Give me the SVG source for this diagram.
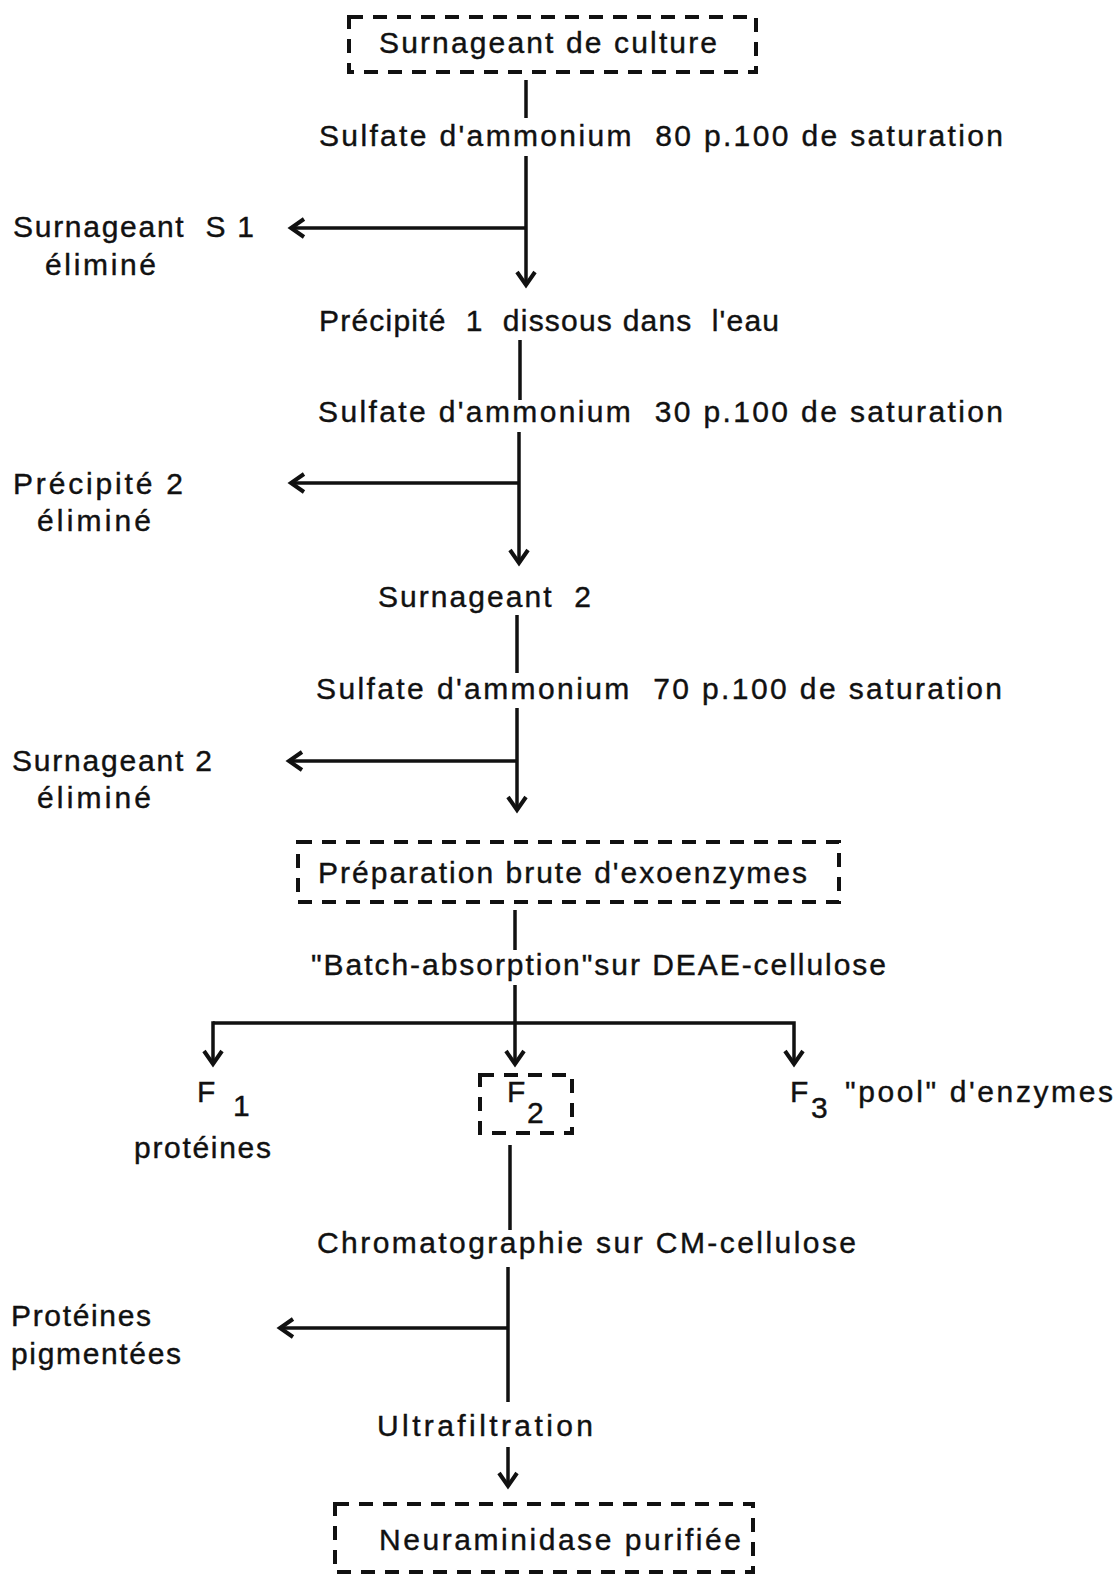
<svg xmlns="http://www.w3.org/2000/svg" width="1118" height="1576" viewBox="0 0 1118 1576">
<style>
text{font-family:"Liberation Sans",Arial,sans-serif;font-size:30px;fill:#111;stroke:#111;stroke-width:0.4}
.box{fill:none;stroke:#111;stroke-width:4;stroke-dasharray:14 10}
.ln{fill:none;stroke:#111;stroke-width:3.5}
</style>
<defs>
<marker id="arr" markerUnits="userSpaceOnUse" markerWidth="30" markerHeight="30" viewBox="-20 -15 30 30" refX="0" refY="0" orient="auto" overflow="visible">
<path d="M-13,-9 L0,0 L-13,9" fill="none" stroke="#111" stroke-width="4" stroke-linejoin="miter"/>
</marker>
</defs>
<rect width="1118" height="1576" fill="#fff"/>

<g id="connectors">
<line class="ln" x1="526" y1="80" x2="526" y2="118"/>
<line class="ln" x1="526" y1="156" x2="526" y2="285" marker-end="url(#arr)"/>
<line class="ln" x1="526" y1="228" x2="291" y2="228" marker-end="url(#arr)"/>
<line class="ln" x1="520" y1="340" x2="520" y2="400"/>
<line class="ln" x1="519" y1="432" x2="519" y2="563" marker-end="url(#arr)"/>
<line class="ln" x1="519" y1="483" x2="291" y2="483" marker-end="url(#arr)"/>
<line class="ln" x1="517" y1="615" x2="517" y2="673"/>
<line class="ln" x1="517" y1="708" x2="517" y2="810" marker-end="url(#arr)"/>
<line class="ln" x1="517" y1="761" x2="289" y2="761" marker-end="url(#arr)"/>
<line class="ln" x1="515" y1="910" x2="515" y2="950"/>
<line class="ln" x1="515" y1="985" x2="515" y2="1064" marker-end="url(#arr)"/>
<polyline class="ln" points="213,1023 794,1023 794,1064" marker-end="url(#arr)"/>
<line class="ln" x1="213" y1="1021.25" x2="213" y2="1064" marker-end="url(#arr)"/>
<line class="ln" x1="510" y1="1145" x2="510" y2="1230"/>
<line class="ln" x1="508" y1="1267" x2="508" y2="1402"/>
<line class="ln" x1="508" y1="1328" x2="280" y2="1328" marker-end="url(#arr)"/>
<line class="ln" x1="508" y1="1447" x2="508" y2="1486" marker-end="url(#arr)"/>
</g>

<g id="n-surnageant-culture">
<rect class="box" x="349" y="17" width="407" height="55"/>
<text x="379" y="53" textLength="338" lengthAdjust="spacing">Surnageant de culture</text>
</g>
<g id="n-sulfate80">
<text x="319" y="146" textLength="684" lengthAdjust="spacing" xml:space="preserve">Sulfate d'ammonium  80 p.100 de saturation</text>
</g>
<g id="n-s1">
<text x="13" y="237" textLength="241" lengthAdjust="spacing" xml:space="preserve">Surnageant  S 1</text>
<text x="45" y="275" textLength="111" lengthAdjust="spacing">éliminé</text>
</g>
<g id="n-precipite1">
<text x="319" y="331" textLength="460" lengthAdjust="spacing" xml:space="preserve">Précipité  1  dissous dans  l'eau</text>
</g>
<g id="n-sulfate30">
<text x="318" y="422" textLength="685" lengthAdjust="spacing" xml:space="preserve">Sulfate d'ammonium  30 p.100 de saturation</text>
</g>
<g id="n-precipite2">
<text x="13" y="494" textLength="170" lengthAdjust="spacing">Précipité 2</text>
<text x="37" y="531" textLength="114" lengthAdjust="spacing">éliminé</text>
</g>
<g id="n-surnageant2">
<text x="378" y="607" textLength="213" lengthAdjust="spacing" xml:space="preserve">Surnageant  2</text>
</g>
<g id="n-sulfate70">
<text x="316" y="699" textLength="686" lengthAdjust="spacing" xml:space="preserve">Sulfate d'ammonium  70 p.100 de saturation</text>
</g>
<g id="n-s2elim">
<text x="12" y="771" textLength="200" lengthAdjust="spacing">Surnageant 2</text>
<text x="37" y="808" textLength="114" lengthAdjust="spacing">éliminé</text>
</g>
<g id="n-preparation">
<rect class="box" x="298" y="842" width="541" height="60"/>
<text x="318" y="883" textLength="489" lengthAdjust="spacing">Préparation brute d'exoenzymes</text>
</g>
<g id="n-batch">
<text x="311" y="975" textLength="575" lengthAdjust="spacing">"Batch-absorption"sur DEAE-cellulose</text>
</g>
<g id="n-f1">
<text x="197" y="1102">F<tspan x="233" y="1116">1</tspan></text>
<text x="134" y="1158" textLength="137" lengthAdjust="spacing">protéines</text>
</g>
<g id="n-f2">
<rect class="box" x="480" y="1075" width="92" height="58"/>
<text x="507" y="1102">F<tspan x="527" y="1123">2</tspan></text>
</g>
<g id="n-f3">
<text x="790" y="1102">F<tspan x="811" y="1118">3</tspan></text>
<text x="845" y="1102" textLength="268" lengthAdjust="spacing">"pool" d'enzymes</text>
</g>
<g id="n-chromato">
<text x="317" y="1253" textLength="539" lengthAdjust="spacing">Chromatographie sur CM-cellulose</text>
</g>
<g id="n-proteines-pig">
<text x="11" y="1326" textLength="140" lengthAdjust="spacing">Protéines</text>
<text x="11" y="1364" textLength="170" lengthAdjust="spacing">pigmentées</text>
</g>
<g id="n-ultra">
<text x="377" y="1436" textLength="216" lengthAdjust="spacing">Ultrafiltration</text>
</g>
<g id="n-neuraminidase">
<rect class="box" x="335" y="1504" width="418" height="68"/>
<text x="379" y="1550" textLength="362" lengthAdjust="spacing">Neuraminidase purifiée</text>
</g>
</svg>
